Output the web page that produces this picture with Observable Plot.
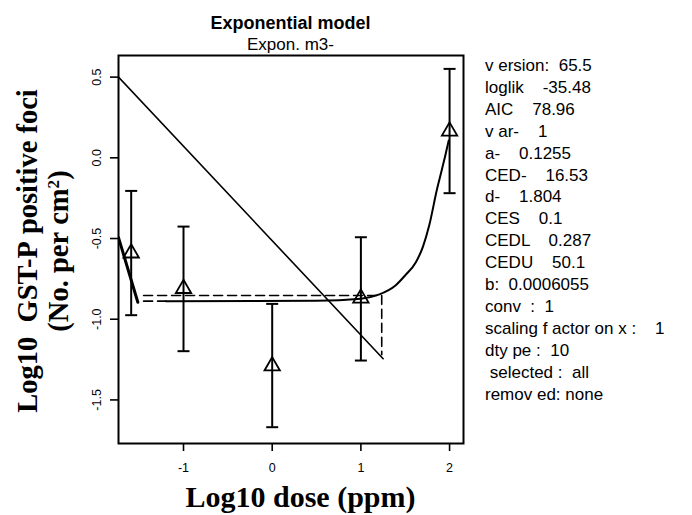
<!DOCTYPE html>
<html>
<head>
<meta charset="utf-8">
<script src="https://cdn.jsdelivr.net/npm/d3@7"></script>
<script src="https://cdn.jsdelivr.net/npm/@observablehq/plot@0.6"></script>
<style>
  html, body { margin: 0; padding: 0; background: white; }
  #wrap { position: relative; width: 692px; height: 515px; overflow: hidden; background: white; }
  #wrap svg { position: absolute; left: 0; top: 0; }
  #wrap svg text { font-family: "Liberation Sans", Arial, sans-serif; font-size: 12.5px; fill: black; }
  .lbl { position: absolute; white-space: pre; color: black; line-height: 1; }
  .sans { font-family: "Liberation Sans", Arial, sans-serif; }
  .serif { font-family: "Liberation Serif", "Times New Roman", serif; font-weight: bold; }
</style>
</head>
<body>
<div id="wrap"></div>
<script>
// ---- data ----
const chartTitle = "Exponential model";
const chartSubtitle = "Expon. m3-";
const xLabel = "Log10 dose (ppm)";
const yLabelLine1 = "Log10  GST-P positive foci";
const yLabelLine2 = "(No. per cm";

const xTicks = [-1, 0, 1, 2];
const yTicks = [-1.5, -1.0, -0.5, 0.0, 0.5];

// observed groups (log10 dose, log10 mean, CI bounds)
const doseLog  = [-1.59, -1, 0, 1, 2];
const meanLog  = [-0.59, -0.81, -1.29, -0.87, 0.165];
const lowerLog = [-0.975, -1.198, -1.669, -1.256, -0.219];
const upperLog = [-0.205, -0.426, -0.905, -0.492, 0.551];

// fitted curve
const curveX = [-1.2, 0.5, 1.0, 1.2, 1.39, 1.5, 1.62, 1.7, 1.77, 1.86, 1.91, 1.95, 1.99];
const curveY = [-0.888, -0.886, -0.873, -0.848, -0.791, -0.728, -0.647, -0.55, -0.42, -0.19, -0.08, 0.01, 0.107];

// other lines
const diagX = [-1.733, 1.251];
const diagY = [0.50, -1.245];
const thickX = [-1.733, -1.515];
const thickY = [-0.494, -0.895];
const cesX = [-1.45, 1.235, 1.235];
const cesY = [-0.853, -0.853, -1.22];
const baseX = [-1.45, -1.2];
const baseY = [-0.888, -0.888];

const statLines = [
  "v ersion:  65.5",
  "loglik    -35.48",
  "AIC    78.96",
  "v ar-    1",
  "a-    0.1255",
  "CED-    16.53",
  "d-    1.804",
  "CES    0.1",
  "CEDL    0.287",
  "CEDU    50.1",
  "b:  0.0006055",
  "conv  :  1",
  "scaling f actor on x :    1",
  "dty pe :  10",
  " selected :  all",
  "remov ed: none"
];

// ---- build tables ----
const pts = doseLog.map((x, i) => ({x, m: meanLog[i], lo: lowerLog[i], hi: upperLog[i]}));
const toPairs = (xs, ys) => xs.map((x, i) => ({x, y: ys[i]}));
const curve = toPairs(curveX, curveY);
const diag = toPairs(diagX, diagY);
const thick = toPairs(thickX, thickY);
const ces = toPairs(cesX, cesY);
const base = toPairs(baseX, baseY);
const yTickRows = yTicks.map(v => ({v}));

const capSymbol = {
  draw(context, size) {
    const r = Math.sqrt(size / Math.PI);
    context.moveTo(-r, 0);
    context.lineTo(r, 0);
  }
};

const plot = Plot.plot({
  width: 692,
  height: 515,
  marginTop: 55,
  marginRight: 229,
  marginBottom: 72,
  marginLeft: 118,
  style: {background: "transparent", overflow: "visible", color: "black"},
  x: {domain: [-1.733, 2.157]},
  y: {domain: [-1.77, 0.634]},
  marks: [
    Plot.axisX({ticks: xTicks, tickSize: 8, tickPadding: 12, strokeWidth: 1.6, label: null, tickFormat: d => String(d)}),
    Plot.axisY({ticks: yTicks, tickSize: 8, strokeWidth: 1.6, label: null, tickFormat: () => ""}),
    Plot.text(yTickRows, {y: "v", text: d => d.v.toFixed(1), frameAnchor: "left", dx: -22, rotate: -90, textAnchor: "middle", lineAnchor: "middle", fill: "black"}),
    Plot.line(diag, {x: "x", y: "y", stroke: "black", strokeWidth: 1.6, clip: true}),
    Plot.line(thick, {x: "x", y: "y", stroke: "black", strokeWidth: 3, clip: true}),
    Plot.line(ces, {x: "x", y: "y", stroke: "black", strokeWidth: 1.6, strokeDasharray: "9,5"}),
    Plot.line(base, {x: "x", y: "y", stroke: "black", strokeWidth: 1.6, strokeDasharray: "9,5"}),
    Plot.line(curve, {x: "x", y: "y", stroke: "black", strokeWidth: 2, curve: "monotone-x"}),
    Plot.ruleX(pts, {x: "x", y1: "lo", y2: "hi", stroke: "black", strokeWidth: 2}),
    Plot.dot(pts, {x: "x", y: "lo", symbol: capSymbol, r: 6, stroke: "black", fill: "none", strokeWidth: 2}),
    Plot.dot(pts, {x: "x", y: "hi", symbol: capSymbol, r: 6, stroke: "black", fill: "none", strokeWidth: 2}),
    Plot.dot(pts, {x: "x", y: "m", symbol: "triangle", r: 5.7, stroke: "black", fill: "none", strokeWidth: 1.8}),
    Plot.frame({stroke: "black", strokeWidth: 2})
  ]
});

const wrap = document.getElementById("wrap");
wrap.appendChild(plot);

function addLabel(text, cls, css, html) {
  const d = document.createElement("div");
  d.className = "lbl " + cls;
  if (html) d.innerHTML = html; else d.textContent = text;
  Object.assign(d.style, css);
  wrap.appendChild(d);
  return d;
}

// title + subtitle (centered over the frame)
addLabel(chartTitle, "sans", {left: "118px", width: "345px", textAlign: "center", top: "14px", fontSize: "18px", fontWeight: "bold"});
addLabel(chartSubtitle, "sans", {left: "118px", width: "345px", textAlign: "center", top: "36px", fontSize: "17px"});

// x label
addLabel(xLabel, "serif", {left: "128px", width: "345px", textAlign: "center", top: "482px", fontSize: "30px"});

// y label (two rotated lines)
addLabel("", "serif", {
  left: (43 - 220) + "px", top: (251 - 31) + "px", width: "440px", height: "62px",
  textAlign: "center", fontSize: "28.5px", lineHeight: "31px", transform: "rotate(-90deg)"
}, yLabelLine1.replace(/ /g, "&nbsp;") + "<br>" + yLabelLine2.replace(/ /g, "&nbsp;") +
   "<sup style='font-size:0.6em;vertical-align:0.55em;line-height:0'>2</sup>)");

// stats panel
statLines.forEach((s, i) => {
  addLabel(s, "sans", {left: "485px", top: (57 + i * 21.9) + "px", fontSize: "17px"});
});
</script>
</body>
</html>
